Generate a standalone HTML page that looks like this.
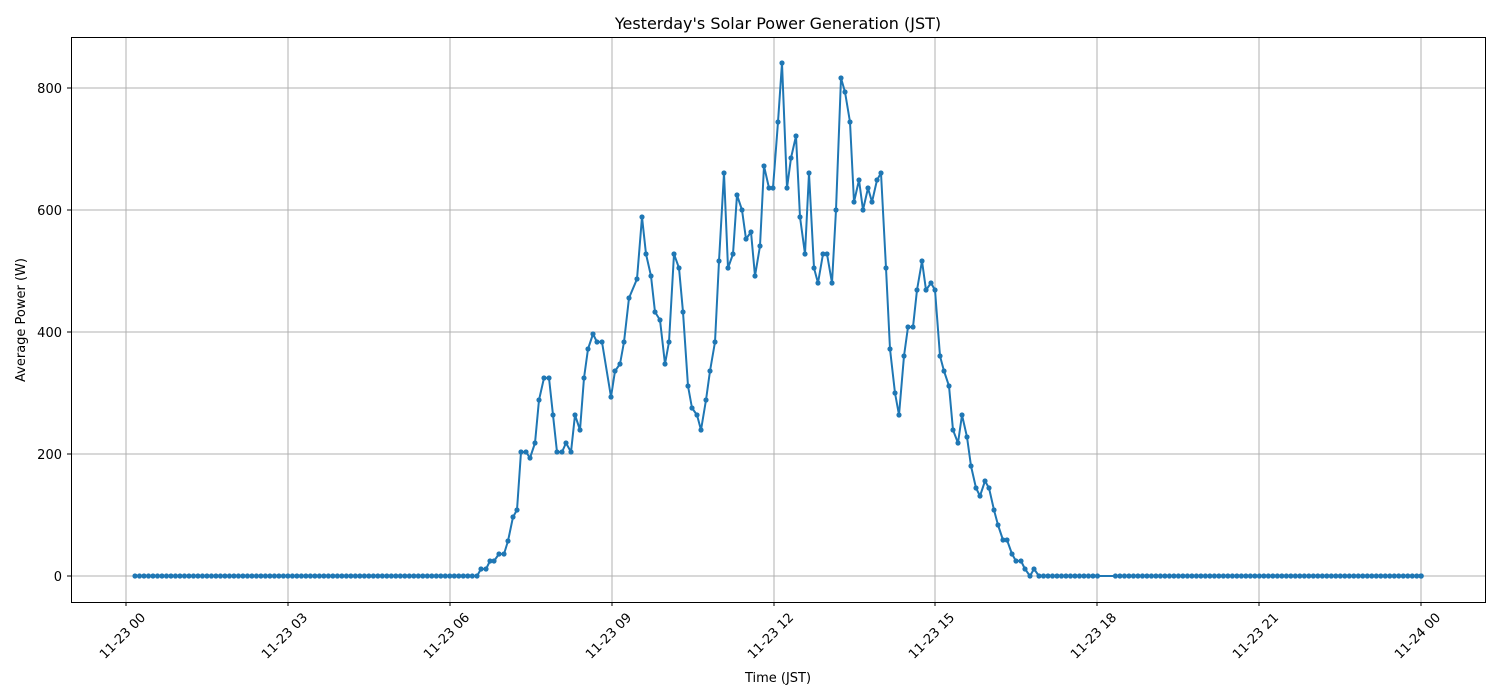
<!DOCTYPE html>
<html><head><meta charset="utf-8"><style>body{margin:0;background:#fff}svg{display:block;font-family:"DejaVu Sans","Liberation Sans",sans-serif}</style></head>
<body>
<svg id="s" width="1500" height="700" xmlns="http://www.w3.org/2000/svg">
<rect width="1500" height="700" fill="#fff"/>
<g stroke="#b0b0b0" stroke-width="1" id="grid"></g>
<rect x="71.5" y="37.5" width="1414" height="565" fill="none" stroke="#000" stroke-width="1"/>
<g id="ticks" font-size="13" fill="#000"></g>
<text x="778" y="29" font-size="16" text-anchor="middle">Yesterday's Solar Power Generation (JST)</text>
<text x="778" y="682" font-size="13" text-anchor="middle">Time (JST)</text>
<text transform="translate(25,320) rotate(-90)" font-size="13" text-anchor="middle">Average Power (W)</text>
<polyline id="line" fill="none" stroke="#1f77b4" stroke-width="2" stroke-linejoin="round"/>
<g id="dots" fill="#1f77b4"></g>
</svg>
<script>
var ns="http://www.w3.org/2000/svg";
function el(t,a,p,txt){var e=document.createElementNS(ns,t);for(var k in a)e.setAttribute(k,a[k]);if(txt)e.textContent=txt;document.getElementById(p).appendChild(e);return e;}
var xs=[126,288,450,612,774,935,1097,1259,1421],lab=["11-23 00","11-23 03","11-23 06","11-23 09","11-23 12","11-23 15","11-23 18","11-23 21","11-24 00"];
xs.forEach(function(x,i){el("line",{x1:x,x2:x,y1:37,y2:602},"grid");el("line",{x1:x,x2:x,y1:602,y2:606,stroke:"#000"},"ticks");
el("text",{transform:"translate("+(x+14)+",612) rotate(-45)","text-anchor":"end","dominant-baseline":"hanging"},"ticks",lab[i]);});
[[0,576],[200,454],[400,332],[600,210],[800,88]].forEach(function(v){el("line",{x1:71,x2:1485,y1:v[1],y2:v[1]},"grid");el("line",{x1:67,x2:71,y1:v[1],y2:v[1],stroke:"#000"},"ticks");
el("text",{x:62,y:v[1]+5,"text-anchor":"end"},"ticks",String(v[0]));});
var pts=[];for(var x=135;x<474;x+=4.497)pts.push([x,576]);
var mid=[[477,576],[481,569],[486,569],[490,561],[494,561],[499,554],[504,554],[508,541],[513,517],[517,510],[521,452],[526,452],[530,458],[535,443],[539,400],[544,378],[549,378],[553,415],[557,452],[562,452],[566,443],[571,452],[575,415],[580,430],[584,378],[588,349],[593,334],[597,342],[602,342],[611,397],[615,371],[620,364],[624,342],[629,298],[637,279],[642,217],[646,254],[651,276],[655,312],[660,320],[665,364],[669,342],[674,254],[679,268],[683,312],[688,386],[692,408],[697,415],[701,430],[706,400],[710,371],[715,342],[719,261],[724,173],[728,268],[733,254],[737,195],[742,210],[746,239],[751,232],[755,276],[760,246],[764,166],[769,188],[773,188],[778,122],[782,63],[787,188],[791,158],[796,136],[800,217],[805,254],[809,173],[814,268],[818,283],[823,254],[827,254],[832,283],[836,210],[841,78],[845,92],[850,122],[854,202],[859,180],[863,210],[868,188],[872,202],[877,180],[881,173],[886,268],[890,349],[895,393],[899,415],[904,356],[908,327],[913,327],[917,290],[922,261],[926,290],[931,283],[935,290],[940,356],[944,371],[949,386],[953,430],[958,443],[962,415],[967,437],[971,466],[976,488],[980,496],[985,481],[989,488],[994,510],[998,525],[1003,540],[1007,540],[1012,554],[1016,561],[1021,561],[1025,569],[1030,576],[1034,569],[1039,576]];
pts=pts.concat(mid);for(var x=1043.5;x<1422;x+=4.497){if(x>1099&&x<1112)continue;pts.push([x,576]);}
pts.push([1421,576]);
document.getElementById("line").setAttribute("points",pts.map(function(p){return p[0]+","+p[1]}).join(" "));
pts.forEach(function(p){el("circle",{cx:p[0],cy:p[1],r:2.6},"dots");});
</script>
</body></html>
